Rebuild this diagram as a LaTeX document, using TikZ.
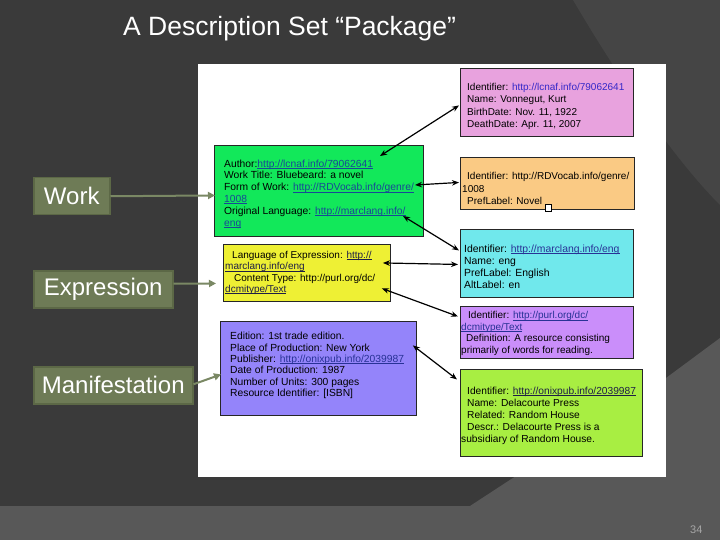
\documentclass[tikz,border=0pt]{standalone}
\usepackage{fontspec}
\setmainfont{Liberation Sans}
\usetikzlibrary{arrows.meta,calc}
\definecolor{bgdark}{RGB}{58,58,58}
\definecolor{bgmid}{RGB}{69,69,69}
\definecolor{bglight}{RGB}{88,88,88}
\definecolor{olive}{RGB}{110,123,86}
\definecolor{oliveedge}{RGB}{92,104,70}
\definecolor{olivearrow}{RGB}{122,136,100}
\definecolor{cGreen}{RGB}{18,232,90}
\definecolor{cPink}{RGB}{232,162,222}
\definecolor{cOrange}{RGB}{250,202,132}
\definecolor{cCyan}{RGB}{112,232,236}
\definecolor{cYellow}{RGB}{238,240,52}
\definecolor{cManif}{RGB}{148,132,250}
\definecolor{cPurple}{RGB}{202,142,250}
\definecolor{cLime}{RGB}{168,238,66}
\definecolor{lkTeal}{RGB}{24,72,150}
\definecolor{lkBlue}{RGB}{52,40,200}
\definecolor{lkNavy}{RGB}{40,50,150}
\definecolor{lkDark}{RGB}{30,30,70}
\newsavebox{\mylkbox}
\newcommand{\mylk}[2]{\textcolor{#1}{\sbox{\mylkbox}{#2}\rlap{\rule[-1.3pt]{\wd\mylkbox}{0.5pt}}\usebox{\mylkbox}}}
\tikzset{
  cbox/.style={draw=black!85, line width=0.9pt, anchor=north west, inner sep=0pt},
  ctext/.style={anchor=west, align=left, inner sep=0pt, text=black},
  lbl/.style={draw=oliveedge, line width=1.5pt, fill=olive, anchor=north west, minimum height=37pt,
              inner sep=0pt, text=white, font=\fontsize{24}{28}\selectfont},
  olarrow/.style={draw=olivearrow, line width=2pt, -{Triangle[length=7pt,width=7pt]}},
  biarrow/.style={draw=black, line width=1.2pt, {Stealth[length=7pt,width=5.5pt]}-{Stealth[length=7pt,width=5.5pt]}}
}
\begin{document}
\begin{tikzpicture}[x=1pt,y=-1pt]
\useasboundingbox (0,0) rectangle (720,540);
% background
\fill[bgdark] (0,0) rectangle (720,540);
\fill[bgmid] (573,0) .. controls (620,80) and (675,160) .. (720,205) -- (720,0) -- cycle;
\fill[bglight] (0,506) -- (470,506) -- (666,378) -- (720,338) -- (720,540) -- (0,540) -- cycle;
% white panel
\fill[white] (198,64) rectangle (666,477);
% title
\node[anchor=base west, inner sep=0pt, text=white, font=\fontsize{26.5}{30}\selectfont] (title) at (123,36) {A Description Set “Package”};
% page number
\node[anchor=base west, inner sep=0pt, text=black!35, font=\fontsize{11}{12}\selectfont] (pnum) at (690,533) {34};

% left labels
\node[lbl, minimum width=76pt] (work) at (33,177) {Work};
\node[lbl, minimum width=139pt] (expr) at (33,270) {Expression};
\node[lbl, minimum width=159pt] (manif) at (33,366) {Manifestation};

% content boxes
\node[cbox, fill=cGreen, minimum width=209pt, minimum height=91pt] (green) at (214,145) {};
\node[ctext, font=\fontsize{10.3}{11.8}\selectfont] (greent) at ($(green.west)+(10,3)$)
 {Author:\mylk{lkTeal}{http://lcnaf.info/79062641}\\
  Work Title: Bluebeard: a novel\\
  Form of Work: \mylk{lkTeal}{http://RDVocab.info/genre/}\\
  \mylk{lkTeal}{1008}\\
  Original Language: \mylk{lkTeal}{http://marclang.info/}\\
  \mylk{lkTeal}{eng}};

\node[cbox, fill=cPink, minimum width=173pt, minimum height=68pt] (pink) at (460,68) {};
\node[ctext, font=\fontsize{10}{12.2}\selectfont] (pinkt) at ($(pink.west)+(7,4)$)
 {Identifier: \textcolor{lkBlue}{http://lcnaf.info/79062641}\\
  Name: Vonnegut, Kurt\\
  BirthDate: Nov. 11, 1922\\
  DeathDate: Apr. 11, 2007};

\node[cbox, fill=cOrange, minimum width=174pt, minimum height=52pt] (orange) at (460,157) {};
\node[ctext, font=\fontsize{10}{12.5}\selectfont] (oranget) at ($(orange.west)+(2,5)$)
 {\hspace*{5pt}Identifier: http://RDVocab.info/genre/\\
  1008\\
  \hspace*{5pt}PrefLabel: Novel};
\draw[black, line width=0.6pt, fill=white] (545,204) rectangle (551,211);

\node[cbox, fill=cCyan, minimum width=173pt, minimum height=68pt] (cyan) at (460,229) {};
\node[ctext, font=\fontsize{10.4}{12}\selectfont] (cyant) at ($(cyan.west)+(4,3)$)
 {Identifier: \mylk{lkNavy}{http://marclang.info/eng}\\
  Name: eng\\
  PrefLabel: English\\
  AltLabel: en};

\node[cbox, fill=cYellow, minimum width=167pt, minimum height=57pt] (yellow) at (223,244) {};
\node[ctext, font=\fontsize{10}{11.4}\selectfont] (yellowt) at ($(yellow.west)+(2,0)$)
 {\hspace*{7pt}Language of Expression: \mylk{lkDark}{http://}\\
  \mylk{lkDark}{marclang.info/eng}\\
  \hspace*{9pt}Content Type: http://purl.org/dc/\\
  \mylk{lkDark}{dcmitype/Text}};

\node[cbox, fill=cManif, minimum width=196pt, minimum height=94pt] (mbox) at (220,321) {};
\node[ctext, font=\fontsize{10.3}{11.3}\selectfont] (mboxt) at ($(mbox.west)+(10,-3)$)
 {Edition: 1st trade edition.\\
  Place of Production: New York\\
  Publisher: \mylk{lkNavy}{http://onixpub.info/2039987}\\
  Date of Production: 1987\\
  Number of Units: 300 pages\\
  Resource Identifier: [ISBN]};

\node[cbox, fill=cPurple, minimum width=173pt, minimum height=52pt] (purple) at (460,306) {};
\node[ctext, font=\fontsize{10}{11.5}\selectfont] (purplet) at ($(purple.west)+(1,1)$)
 {\hspace*{7pt}Identifier: \mylk{lkNavy}{http://purl.org/dc/}\\
  \mylk{lkNavy}{dcmitype/Text}\\
  \hspace*{5pt}Definition: A resource consisting\\
  primarily of words for reading.};

\node[cbox, fill=cLime, minimum width=182pt, minimum height=87pt] (lime) at (460,369) {};
\node[ctext, font=\fontsize{10.2}{12}\selectfont] (limet) at ($(lime.west)+(1,3)$)
 {\hspace*{6pt}Identifier: \mylk{lkDark}{http://onixpub.info/2039987}\\
  \hspace*{6pt}Name: Delacourte Press\\
  \hspace*{6pt}Related: Random House\\
  \hspace*{6pt}Descr.: Delacourte Press is a\\
  subsidiary of Random House.};

% olive arrows
\draw[olarrow] (work.east) -- ($(green.west)+(1,4.5)$);
\draw[olarrow] ($(expr.east)+(0,-5.5)$) -- ($(yellow.west)+(-7,10.5)$);
\draw[olarrow] ($(manif.east)+(0,-1)$) -- ($(mbox.west)+(1,6)$);

% black double arrows
\coordinate (g1) at ($(green.north west)+(166,11)$);
\coordinate (g2) at ($(green.north west)+(201,40)$);
\coordinate (g3) at ($(green.north west)+(189,71)$);
\coordinate (y1) at ($(yellow.east)+(-8,-10)$);
\coordinate (y2) at ($(yellow.east)+(-9,15.5)$);
\coordinate (m1) at ($(mbox.east)+(-4,-23)$);
\draw[biarrow] (g1) -- ($(pink.west)+(-1,3)$);
\draw[biarrow] (g2) -- ($(orange.west)+(-1,-1)$);
\draw[biarrow] (g3) -- ($(cyan.west)+(-1,-13)$);
\draw[biarrow] (y1) -- ($(cyan.west)+(-2,1)$);
\draw[biarrow] (y2) -- ($(purple.west)+(-2,-16)$);
\draw[biarrow] (m1) -- ($(lime.west)+(-3,-33.5)$);
\end{tikzpicture}
\end{document}
